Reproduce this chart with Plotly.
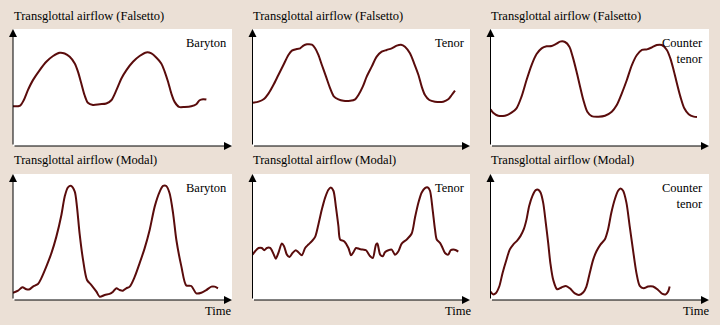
import plotly.graph_objects as go

# ---- data (time in % of axis, airflow in % of axis) ----
fb_t = [0, 3.3, 4.9, 6.8, 9.1, 12.2, 15.2, 18.3, 21.3, 23.6, 25.9, 28.2, 29.7, 31.2, 32.7, 34.2, 36.5, 39.6, 42.6, 44.9,
        47.2, 49.5, 51.8, 54.8, 57.8, 60.9, 63.2, 65.4, 67.7, 69.3, 70.8, 72.3, 73.8, 75.8, 78.4, 81.4, 83.7, 85.2, 86.8, 88.3]
fb_v = [34, 34.6, 39.1, 47.7, 56.3, 64.9, 72.0, 76.9, 79.7, 79.1, 76.3, 70.6, 63.4, 53.4, 43.4, 36.9, 35.1, 35.7, 36.3, 39.1,
        47.7, 57.7, 64.9, 72.0, 76.9, 80.0, 79.1, 75.7, 70.6, 63.4, 54.9, 44.9, 37.7, 33.4, 33.4, 34.0, 35.7, 39.1, 40.0, 39.7]

ft_t = [0, 2.8, 5.1, 7.4, 9.6, 11.9, 14.2, 16.5, 18.1, 20.4, 21.9, 23.4, 25.0, 27.3, 28.8, 30.3, 31.9, 33.8, 35.7, 37.5,
        39.5, 41.8, 44.9, 47.2, 48.7, 50.7, 52.5, 54.8, 57.1, 59.4, 61.7, 64.0, 66.3, 68.3, 70.1, 72.4, 74.3, 76.3, 77.8,
        79.3, 81.3, 83.9, 87.7, 90.0, 91.6, 93.1]
ft_v = [37.0, 37.9, 39.9, 45.0, 52.1, 60.7, 69.2, 77.8, 81.5, 82.9, 83.5, 85.8, 86.9, 86.6, 83.5, 77.8, 69.2, 59.3, 49.3,
        42.2, 39.9, 38.7, 38.7, 39.9, 43.6, 50.7, 59.3, 67.8, 76.4, 80.6, 82.1, 83.5, 85.8, 86.6, 84.9, 79.2, 70.7, 60.7,
        50.7, 43.6, 39.3, 37.9, 37.9, 39.9, 43.6, 47.3]

fc_t = [0, 1.2, 3.5, 6.6, 9.6, 11.9, 14.2, 16.5, 18.8, 21.1, 23.4, 25.7, 28.0, 30.0, 31.8, 34.1, 36.1, 37.6, 39.4, 41.0,
        42.5, 44.3, 46.3, 49.4, 52.4, 55.5, 57.8, 60.1, 62.4, 64.7, 67.0, 69.3, 71.6, 73.9, 76.1, 78.4, 80.7, 82.3, 83.8,
        85.3, 86.9, 88.7, 90.7, 93.0, 94.5]
fc_v = [31.3, 28.5, 25.9, 25.9, 28.5, 32.2, 42.2, 56.4, 69.2, 78.6, 83.5, 85.2, 85.5, 87.2, 89.2, 88.9, 84.9, 76.4, 63.5,
        50.7, 39.3, 29.3, 25.6, 25.1, 25.9, 29.3, 35.0, 45.0, 56.4, 69.2, 77.8, 82.1, 82.6, 84.3, 86.3, 86.3, 82.1, 74.9,
        65.0, 53.6, 42.2, 32.2, 27.1, 25.1, 24.8]

mb_t = [0, 2.3, 4.3, 6.1, 7.6, 9.1, 11.4, 12.9, 15.2, 17.5, 19.8, 22.1, 23.6, 25.1, 26.6, 28.2, 29.2, 30.4, 32.0, 33.8,
        35.8, 38.1, 39.6, 41.9, 44.1, 45.7, 47.2, 48.7, 50.2, 51.7, 53.3, 55.6, 57.8, 60.1, 62.4, 64.7, 67.0, 68.5, 70.0,
        71.5, 73.1, 74.6, 76.9, 79.1, 81.4, 83.7, 86.0, 88.3, 90.6, 92.1, 93.6]
mb_v = [5.8, 7.4, 10.1, 8.5, 8.5, 10.6, 12.7, 17.2, 26.5, 37.0, 50.3, 67.5, 82.0, 89.4, 90.5, 86.0, 74.1, 52.9, 31.7, 15.9,
        11.9, 6.6, 2.6, 4.0, 4.8, 6.6, 9.3, 7.9, 7.4, 9.3, 10.6, 18.5, 29.1, 41.0, 55.6, 74.1, 86.0, 90.5, 90.5, 84.7,
        68.8, 47.6, 26.5, 11.6, 11.1, 5.3, 5.8, 7.9, 10.6, 10.6, 9.3]

mt_t = [0, 1.2, 2.8, 4.3, 5.4, 6.6, 8.1, 9.6, 10.7, 11.9, 13.5, 14.5, 15.8, 17.0, 18.4, 19.9, 21.1, 22.7, 24.2, 25.7,
        27.3, 28.8, 30.3, 31.9, 33.4, 34.9, 36.0, 37.2, 38.4, 39.5, 40.3, 42.1, 44.1, 45.3, 46.4, 47.6, 49.2, 50.7, 52.2,
        54.1, 55.3, 56.8, 57.4, 58.7, 59.9, 60.9, 62.5, 64.0, 65.5, 67.1, 68.6, 70.9, 73.2, 74.7, 76.3, 77.8, 79.3, 80.6,
        81.6, 82.8, 83.9, 84.7, 86.2, 87.4, 88.5, 90.0, 91.1, 92.3, 93.6, 94.6]
mt_v = [36.0, 38.7, 41.3, 41.3, 39.5, 41.3, 41.3, 36.8, 32.8, 37.3, 44.8, 42.7, 36.0, 34.1, 37.3, 39.5, 37.9, 35.5, 41.3,
        44.0, 46.7, 50.1, 60.0, 72.0, 81.3, 87.5, 89.3, 86.7, 73.3, 58.7, 48.0, 46.7, 41.3, 35.5, 37.9, 41.3, 40.5, 40.0,
        39.5, 34.7, 33.3, 44.0, 44.8, 36.0, 34.7, 37.9, 39.5, 40.0, 36.0, 38.7, 44.8, 48.0, 52.8, 65.3, 77.3, 85.3, 88.8,
        89.3, 86.7, 72.0, 56.0, 48.0, 45.3, 41.3, 37.3, 36.0, 39.5, 40.0, 39.5, 38.4]

mc_t = [0, 1.2, 2.4, 4.0, 5.5, 7.3, 8.8, 10.4, 12.2, 13.7, 15.2, 16.5, 17.7, 19.2, 20.7, 21.8, 22.9, 24.1, 25.3, 26.4,
        27.4, 28.7, 30.5, 32.5, 34.5, 36.3, 38.6, 40.5, 42.4, 43.9, 45.4, 47.0, 48.5, 50.3, 52.3, 53.8, 55.3, 56.9, 58.4,
        59.5, 60.7, 62.2, 63.7, 65.2, 66.8, 68.3, 70.1, 72.1, 74.4, 76.7, 78.7, 80.2, 81.3, 82.0]
mc_v = [6.7, 4.5, 5.3, 10.7, 21.3, 32.0, 40.0, 44.0, 47.2, 50.7, 56.0, 64.0, 74.7, 82.7, 87.2, 87.5, 85.3, 77.3, 61.3,
        45.3, 29.3, 16.0, 8.5, 9.9, 11.2, 9.3, 5.3, 4.0, 5.9, 10.7, 21.3, 32.0, 38.7, 44.0, 48.0, 56.0, 69.3, 80.0, 86.7,
        88.5, 86.7, 77.3, 58.7, 40.0, 21.3, 11.2, 9.3, 10.7, 10.7, 8.0, 4.8, 4.5, 6.7, 10.7]

titles = ["Transglottal airflow (Falsetto)", "Transglottal airflow (Modal)"]
voices = ["Baryton", "Tenor", "Counter<br>tenor"]
time_label = "Time"

series = [(fb_t, fb_v), (ft_t, ft_v), (fc_t, fc_v), (mb_t, mb_v), (mt_t, mt_v), (mc_t, mc_v)]

# ---- layout geometry (pixels) ----
W, H = 720, 325
col_x = [(13, 232), (252.5, 470), (490.5, 709)]
row_y = [(29, 146), (174, 300)]
title_x = [12, 251, 489]
title_y = [16, 160]
label_right = [229, 467, 705]
label_top = [34, 179]
time_right = [233, 473, 711]
time_y = 311

BG = "#ebe0d6"
LINE = "#5a0c0c"
FONT = dict(family="Liberation Serif", size=12.5, color="black")

fig = go.Figure()
layout = dict(width=W, height=H, margin=dict(l=0, r=0, t=0, b=0),
              paper_bgcolor=BG, plot_bgcolor="white", showlegend=False, font=FONT)
annotations = []

for i, (t, v) in enumerate(series):
    r, c = divmod(i, 3)
    n = i + 1
    xa = "x" if n == 1 else f"x{n}"
    ya = "y" if n == 1 else f"y{n}"
    fig.add_trace(go.Scatter(x=t, y=v, mode="lines", xaxis=xa, yaxis=ya,
                             line=dict(color=LINE, width=2, shape="spline", smoothing=0.8),
                             hoverinfo="skip"))
    x0, x1 = col_x[c]
    yt, yb = row_y[r]
    layout["xaxis" if n == 1 else f"xaxis{n}"] = dict(
        domain=[x0 / W, x1 / W], range=[0, 100], visible=False, anchor=ya, fixedrange=True)
    layout["yaxis" if n == 1 else f"yaxis{n}"] = dict(
        domain=[1 - yb / H, 1 - yt / H], range=[0, 100], visible=False, anchor=xa, fixedrange=True)
    dref = f"{xa} domain"
    yref = f"{ya} domain"
    # axis arrows
    annotations.append(dict(xref=dref, yref=yref, axref=dref, ayref=yref,
                            x=0, y=1, ax=0, ay=0, text="", showarrow=True,
                            arrowhead=2, arrowsize=1.6, arrowwidth=1, arrowcolor="black", standoff=0))
    annotations.append(dict(xref=dref, yref=yref, axref=dref, ayref=yref,
                            x=1, y=0, ax=0, ay=0, text="", showarrow=True,
                            arrowhead=2, arrowsize=1.6, arrowwidth=1, arrowcolor="black", standoff=0))
    # voice label
    annotations.append(dict(xref="paper", yref="paper", x=label_right[c] / W, y=1 - label_top[r] / H,
                            xanchor="right", yanchor="top", align="right", text=voices[c],
                            showarrow=False, font=FONT))

for r in range(2):
    for c in range(3):
        annotations.append(dict(xref="paper", yref="paper", x=title_x[c] / W, y=1 - title_y[r] / H,
                                xanchor="left", yanchor="middle", text=titles[r], showarrow=False, font=FONT))
for c in range(3):
    annotations.append(dict(xref="paper", yref="paper", x=time_right[c] / W, y=1 - time_y / H,
                            xanchor="right", yanchor="middle", text=time_label, showarrow=False, font=FONT))

layout["annotations"] = annotations
fig.update_layout(**layout)
fig.write_html("out.html", config={"displayModeBar": False},
               post_script="document.body.style.margin='0';document.body.style.padding='0';")
